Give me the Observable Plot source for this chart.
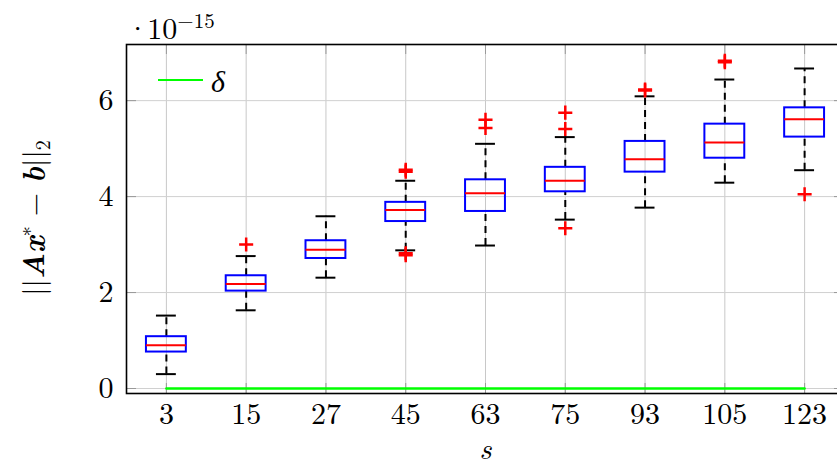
<!DOCTYPE html>
<html>
<head>
<meta charset="utf-8">
<script src="https://cdn.jsdelivr.net/npm/d3@7"></script>
<script src="https://cdn.jsdelivr.net/npm/@observablehq/plot@0.6"></script>
<style>
  html, body { margin: 0; padding: 0; overflow: hidden; background: white; }
  #wrap { position: relative; width: 837px; height: 464px; overflow: hidden;
          font-family: "Latin Modern Roman", "Liberation Serif", serif; color: black; }
  #wrap svg { position: absolute; left: 0; top: 0; }
  .exp { position: absolute; left: 126px; top: 9px; font-size: 30px; line-height: 1; white-space: nowrap; }
  .exp .cdot { margin-right: -2px; }
  .exp sup { font-size: 21px; vertical-align: 11px; line-height: 1; }
  .legend { position: absolute; left: 158px; top: 63px; height: 34px; display: flex; align-items: center; }
  .legend .swatch { width: 45px; height: 2.5px; background: #00ff00; margin-right: 8px; }
  .legend .lab { font-size: 30px; font-style: italic; line-height: 1; }
  .ylab { position: absolute; left: 33px; top: 218px; transform: translate(-50%, -50%) rotate(-90deg);
          font-size: 30px; line-height: 1; white-space: nowrap; }
  .ylab sub { font-size: 20px; vertical-align: -6px; line-height: 1; }
  .ylab sup { font-size: 20px; vertical-align: 12px; line-height: 1; }
</style>
</head>
<body>
<div id="wrap"></div>
<script>
// Number of sampled columns s (categorical x axis)
const sizes = ["3", "15", "27", "45", "63", "75", "93", "105", "123"];

// Box-plot statistics of the residual norm, in units of 1e-15
const lowerWhisker = [0.30, 1.63, 2.31, 2.88, 2.98, 3.52, 3.77, 4.29, 4.55];
const quartile1    = [0.76, 2.03, 2.71, 3.48, 3.69, 4.10, 4.51, 4.80, 5.24];
const medians      = [0.90, 2.18, 2.89, 3.72, 4.07, 4.33, 4.78, 5.13, 5.61];
const quartile3    = [1.08, 2.35, 3.08, 3.88, 4.35, 4.61, 5.15, 5.51, 5.85];
const upperWhisker = [1.52, 2.76, 3.59, 4.33, 5.10, 5.24, 6.09, 6.44, 6.67];

// Outliers: the column count and value of each flagged run
const outlierSize  = ["15", "45", "45", "45", "45", "63", "63", "75", "75", "75", "93", "93", "105", "105", "123"];
const outlierValue = [3.00, 4.52, 4.56, 2.78, 2.82, 5.60, 5.43, 5.75, 5.41, 3.34, 6.21, 6.23, 6.80, 6.83, 4.05];

// Tolerance delta for every s
const deltaValue = [0, 0, 0, 0, 0, 0, 0, 0, 0];

const yTicks = [0, 2, 4, 6];

const stats = sizes.map((s, i) => ({
  s, lo: lowerWhisker[i], q1: quartile1[i], med: medians[i], q3: quartile3[i], hi: upperWhisker[i]
}));
const outliers = outlierSize.map((s, i) => ({s, v: outlierValue[i]}));
const delta = sizes.map((s, i) => ({s, v: deltaValue[i]}));

const W = 860, H = 464, mL = 126, mR = 16, mT = 44, mB = 71;
const frameW = W - mL - mR, frameH = H - mT - mB;
const font = "'Latin Modern Roman', 'Liberation Serif', serif";

const chart = Plot.plot({
  width: W,
  height: H,
  marginLeft: mL,
  marginRight: mR,
  marginTop: mT,
  marginBottom: mB,
  style: {fontFamily: font, fontSize: "30px", maxWidth: "none", overflow: "visible", background: "transparent", color: "black"},
  x: {type: "band", domain: sizes, paddingInner: 0.5, paddingOuter: 0.25, round: false},
  y: {domain: [-0.104, 7.17]},
  marks: [
    Plot.gridX({stroke: "#c8c8c8", strokeOpacity: 1, strokeWidth: 1}),
    Plot.gridY(yTicks, {stroke: "#d0d0d0", strokeOpacity: 1, strokeWidth: 1}),
    // short inward tick marks on all four sides
    Plot.ruleY(yTicks, {stroke: "#999", insetRight: frameW - 10}),
    Plot.ruleY(yTicks, {stroke: "#999", insetLeft: frameW - 10}),
    Plot.ruleX(sizes, {stroke: "#999", insetBottom: frameH - 10}),
    Plot.ruleX(sizes, {stroke: "#999", insetTop: frameH - 10}),
    // whiskers
    Plot.ruleX(stats, {x: "s", y1: "q3", y2: "hi", stroke: "black", strokeWidth: 2, strokeDasharray: "7,5"}),
    Plot.ruleX(stats, {x: "s", y1: "lo", y2: "q1", stroke: "black", strokeWidth: 2, strokeDasharray: "7,5"}),
    Plot.tickY(stats, {x: "s", y: "hi", stroke: "black", strokeWidth: 2, insetLeft: 10, insetRight: 10}),
    Plot.tickY(stats, {x: "s", y: "lo", stroke: "black", strokeWidth: 2, insetLeft: 10, insetRight: 10}),
    // boxes and medians
    Plot.barY(stats, {x: "s", y1: "q1", y2: "q3", fill: "none", stroke: "#0000ff", strokeWidth: 2}),
    Plot.tickY(stats, {x: "s", y: "med", stroke: "#ff0000", strokeWidth: 2}),
    // outliers
    Plot.dot(outliers, {x: "s", y: "v", symbol: "plus", r: 4.6, stroke: "#ff0000", strokeWidth: 2.5}),
    // delta
    Plot.lineY(delta, {x: "s", y: "v", stroke: "#00ff00", strokeWidth: 2.5}),
    Plot.frame({stroke: "black", strokeWidth: 1.6}),
    Plot.axisY(yTicks, {tickSize: 0, tickPadding: 13, fontSize: 30, label: null, fill: "black"}),
    Plot.axisX({tickSize: 0, tickPadding: 9, fontSize: 30, label: null, fill: "black"}),
    // x axis title
    Plot.text(["s"], {frameAnchor: "bottom", dy: 65, fontSize: 30, fontStyle: "italic", fill: "black"})
  ]
});

const wrap = document.getElementById("wrap");
wrap.appendChild(chart);
wrap.insertAdjacentHTML("beforeend", `
  <div class="exp"><span class="cdot">·</span>10<sup>−15</sup></div>
  <div class="legend"><div class="swatch"></div><div class="lab">δ</div></div>
  <div class="ylab">||<b><i>Ax</i></b><sup>∗</sup> − <b><i>b</i></b>||<sub>2</sub></div>
`);
</script>
</body>
</html>
